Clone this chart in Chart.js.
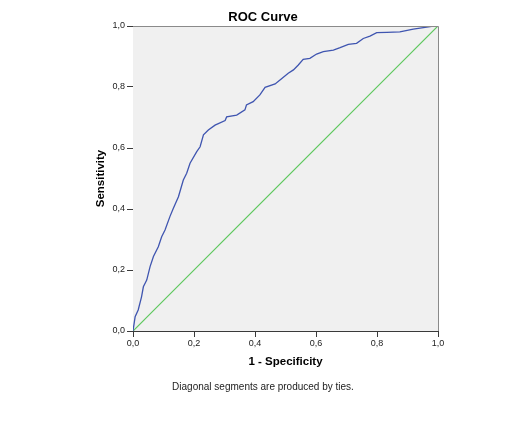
<!DOCTYPE html>
<html>
<head>
<meta charset="utf-8">
<script src="https://cdn.jsdelivr.net/npm/chart.js@4/dist/chart.umd.min.js"></script>
<style>
    body { margin: 0; background: #fff; }
</style>
</head>
<body>
<canvas id="roc-chart" width="526" height="423"></canvas>
<script>
// values
const fpr = [0, 0.007, 0.017, 0.028, 0.034, 0.045, 0.056, 0.067, 0.083, 0.094, 0.105, 0.121, 0.132,
    0.149, 0.165, 0.176, 0.187, 0.209, 0.220, 0.231, 0.247, 0.269, 0.302, 0.307, 0.340, 0.367,
    0.372, 0.394, 0.416, 0.433, 0.466, 0.488, 0.509, 0.526, 0.542, 0.558, 0.580, 0.602, 0.624,
    0.657, 0.679, 0.706, 0.733, 0.755, 0.777, 0.799, 0.832, 0.875, 0.919, 0.952, 0.985, 1];
const tpr = [0, 0.047, 0.069, 0.112, 0.145, 0.167, 0.211, 0.244, 0.276, 0.309, 0.331, 0.375, 0.402,
    0.440, 0.495, 0.517, 0.550, 0.588, 0.604, 0.643, 0.659, 0.675, 0.690, 0.702, 0.708, 0.725,
    0.741, 0.752, 0.774, 0.799, 0.810, 0.828, 0.845, 0.856, 0.872, 0.891, 0.894, 0.908, 0.916,
    0.921, 0.929, 0.940, 0.943, 0.959, 0.967, 0.978, 0.979, 0.981, 0.990, 0.995, 1, 1];
const refLine = [0, 1];
const tickValues = [0, 0.2, 0.4, 0.6, 0.8, 1];

const fmt = v => v.toFixed(1).replace('.', ',');

// grey plot background plus a thin frame round it
const plotFrame = {
    id: 'plotFrame',
    beforeDatasetsDraw(chart) {
        const {ctx, chartArea: a} = chart;
        ctx.save();
        ctx.fillStyle = '#f0f0f0';
        ctx.fillRect(a.left, a.top, a.right - a.left, a.bottom - a.top);
        ctx.restore();
    },
    afterDraw(chart) {
        const {ctx, chartArea: a} = chart;
        ctx.save();
        ctx.strokeStyle = '#8a8a8a';
        ctx.lineWidth = 1;
        ctx.beginPath();
        ctx.moveTo(a.left, a.top + 0.5);
        ctx.lineTo(a.right + 0.5, a.top + 0.5);
        ctx.lineTo(a.right + 0.5, a.bottom);
        ctx.stroke();
        ctx.restore();
    }
};

const axisColor = '#3a3a3a';

new Chart(document.getElementById('roc-chart').getContext('2d'), {
    type: 'line',
    data: {
        datasets: [{
            data: fpr.map((x, i) => ({x: x, y: tpr[i]})),
            borderColor: '#3f55b0',
            borderWidth: 1.3,
            pointRadius: 0,
            tension: 0
        }, {
            data: refLine.map((x, i) => ({x: x, y: refLine[i]})),
            borderColor: '#5cc75c',
            borderWidth: 1.2,
            pointRadius: 0,
            tension: 0
        }]
    },
    options: {
        responsive: false,
        animation: false,
        layout: {
            padding: {left: 88, right: 88, top: 0, bottom: 28}
        },
        scales: {
            x: {
                type: 'linear',
                min: 0,
                max: 1,
                afterBuildTicks: s => { s.ticks = tickValues.map(v => ({value: v})); },
                afterFit: s => { s.height = 40; },
                border: {color: axisColor, width: 1},
                grid: {drawOnChartArea: false, tickLength: 6, color: axisColor},
                ticks: {
                    padding: 1,
                    color: '#222',
                    font: {family: 'Liberation Sans', size: 9},
                    maxRotation: 0,
                    callback: fmt
                },
                title: {
                    display: true,
                    text: '1 - Specificity',
                    color: '#000',
                    font: {family: 'Liberation Sans', size: 11.5, weight: 'bold'},
                    padding: {top: 0, bottom: 2}
                }
            },
            y: {
                type: 'linear',
                min: 0,
                max: 1,
                afterBuildTicks: s => { s.ticks = tickValues.map(v => ({value: v})); },
                afterFit: s => { s.width = 45; },
                border: {color: axisColor, width: 1},
                grid: {drawOnChartArea: false, tickLength: 6, color: axisColor},
                ticks: {
                    padding: 2,
                    color: '#222',
                    font: {family: 'Liberation Sans', size: 9},
                    callback: fmt
                },
                title: {
                    display: true,
                    text: 'Sensitivity',
                    color: '#000',
                    font: {family: 'Liberation Sans', size: 11.5, weight: 'bold'},
                    padding: {top: 6, bottom: 0}
                }
            }
        },
        plugins: {
            legend: {display: false},
            tooltip: {enabled: false},
            title: {
                display: true,
                text: 'ROC Curve',
                color: '#000',
                font: {family: 'Liberation Sans', size: 13, weight: 'bold'},
                padding: {top: 10, bottom: 0.4}
            },
            subtitle: {
                display: true,
                position: 'bottom',
                text: 'Diagonal segments are produced by ties.',
                color: '#222',
                font: {family: 'Liberation Sans', size: 10},
                padding: {top: 10, bottom: 2}
            }
        }
    },
    plugins: [plotFrame]
});
</script>
</body>
</html>
